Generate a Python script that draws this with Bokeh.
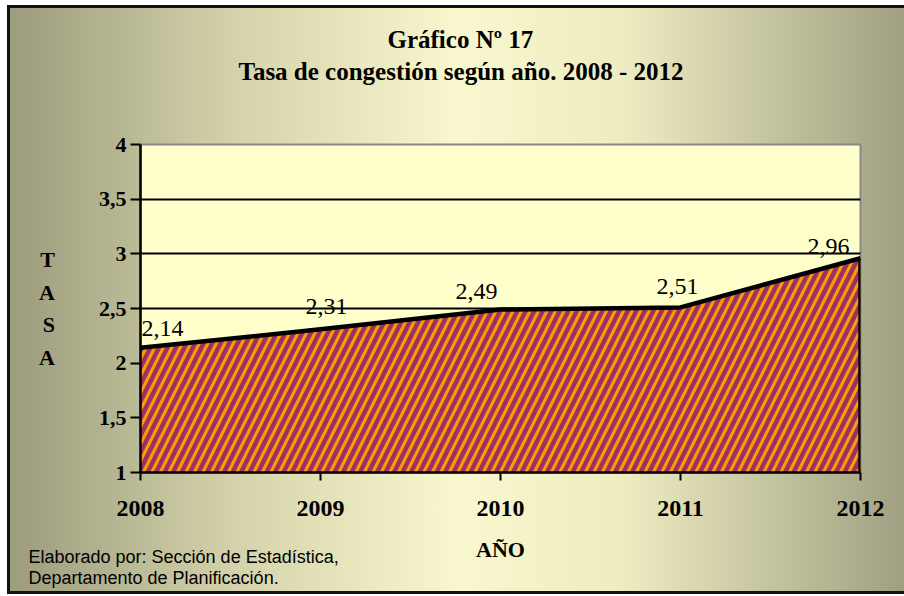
from bokeh.plotting import figure
from bokeh.models import ColumnDataSource, FixedTicker, Range1d, Title
from bokeh.core.properties import value
from bokeh.embed import file_html
from bokeh.resources import INLINE

# ---- data ----
years = [2008, 2009, 2010, 2011, 2012]
tasa = [2.14, 2.31, 2.49, 2.51, 2.96]
tasa_labels = ["2,14", "2,31", "2,49", "2,51", "2,96"]
y_ticks = [1, 1.5, 2, 2.5, 3, 3.5, 4]
y_tick_labels = ["1", "1,5", "2", "2,5", "3", "3,5", "4"]
x_tick_labels = ["2008", "2009", "2010", "2011", "2012"]
title_1 = "Gráfico Nº 17"
title_2 = "Tasa de congestión según año. 2008 - 2012"
y_title = "T\nA\nS\nA"
x_title = "AÑO"
footer = "Elaborado por: Sección de Estadística,\nDepartamento de Planificación."
# label placement offsets (pixels)
label_dx = [22, 6, -24, -3, -32]
label_dy = [-19, -23, -18, -21, -12]

SERIF = "Liberation Serif"
SANS = "Liberation Sans"

W, H = 904, 596
p = figure(width=W, height=H, output_backend="svg", toolbar_location=None,
           x_range=Range1d(years[0], years[-1]),
           y_range=Range1d(y_ticks[0], y_ticks[-1]),
           min_border_left=140, min_border_right=44,
           min_border_top=144, min_border_bottom=124)
bar = "linear-gradient(#111111,#111111)"
p.styles = {"background": (
    f"{bar} 7px 5px / 3px 589px no-repeat, "
    f"{bar} 7px 5px / 897px 3px no-repeat, "
    f"{bar} 7px 591px / 897px 3px no-repeat, "
    "linear-gradient(to right, #9b9b7d 0%, #d3d2aa 25%, #f8f7cd 50%, #eeedc2 68%, #9f9e81 100%) 7px 5px / 900px 589px no-repeat, "
    "#ffffff")}
p.border_fill_alpha = 0
p.background_fill_color = "#FFFFCC"
p.outline_line_color = "#888888"
p.outline_line_width = 2

# titles: frame <- spacer <- title_2 <- title_1
def style_title(t):
    t.text_font = SERIF
    t.text_font_size = "25px"
    t.text_font_style = "bold"
    t.text_color = "black"
    t.align = "left"

p.title.text = title_1
style_title(p.title)
p.title.offset = 247
p.title.standoff = 0
spacer = Title(text=" ", standoff=54, text_font_size="1px")
p.add_layout(spacer, "above")
t2 = Title(text=title_2, standoff=6)
style_title(t2)
t2.offset = 98
p.add_layout(t2, "above")

# grid
p.xgrid.visible = False
p.ygrid.ticker = FixedTicker(ticks=y_ticks[1:-1])
p.ygrid.grid_line_color = "black"
p.ygrid.grid_line_width = 2

# axes
p.yaxis.ticker = FixedTicker(ticks=y_ticks)
p.yaxis.major_label_overrides = {float(t): l for t, l in zip(y_ticks, y_tick_labels)}
p.yaxis.major_label_text_font = SERIF
p.yaxis.major_label_text_font_style = "bold"
p.yaxis.major_label_text_font_size = "22px"
p.yaxis.major_label_text_color = "black"
p.yaxis.axis_line_width = 2.5
p.yaxis.axis_line_color = "black"
p.yaxis.major_tick_in = 0
p.yaxis.major_tick_out = 10
p.yaxis.major_tick_line_width = 2
p.yaxis.minor_tick_line_color = None
p.yaxis.major_label_standoff = 4
p.yaxis.axis_label = y_title
p.yaxis.axis_label_orientation = "horizontal"
p.yaxis.axis_label_text_font = SERIF
p.yaxis.axis_label_text_font_style = "bold"
p.yaxis.axis_label_text_font_size = "22px"
p.yaxis.axis_label_text_color = "black"
p.yaxis.axis_label_text_line_height = 1.3
p.yaxis.axis_label_standoff = 41

p.xaxis.ticker = FixedTicker(ticks=years)
p.xaxis.major_label_overrides = {float(t): l for t, l in zip(years, x_tick_labels)}
p.xaxis.major_label_text_font = SERIF
p.xaxis.major_label_text_font_style = "bold"
p.xaxis.major_label_text_font_size = "24px"
p.xaxis.major_label_text_color = "black"
p.xaxis.axis_line_width = 2.5
p.xaxis.axis_line_color = "black"
p.xaxis.major_tick_in = 0
p.xaxis.major_tick_out = 8
p.xaxis.major_tick_line_width = 2
p.xaxis.minor_tick_line_color = None
p.xaxis.major_label_standoff = 20
p.xaxis.axis_label = x_title
p.xaxis.axis_label_text_font = SERIF
p.xaxis.axis_label_text_font_style = "bold"
p.xaxis.axis_label_text_font_size = "22px"
p.xaxis.axis_label_text_color = "black"
p.xaxis.axis_label_standoff = 18

# footer (below the x axis, pulled up beside the axis title)
ft = Title(text=footer, align="left", offset=-112, standoff=-38,
           text_font=SANS, text_font_size="18px", text_font_style="normal",
           text_color="black", text_line_height=1.06)
p.add_layout(ft, "below")

# area
src = ColumnDataSource(dict(x=years, y=tasa, txt=tasa_labels, dx=label_dx, dy=label_dy))
p.varea(x="x", y1=y_ticks[0], y2="y", source=src,
        fill_color="#993366", hatch_pattern="/", hatch_color="#FF9900",
        hatch_scale=17, hatch_weight=3.1)
p.line(x="x", y="y", source=src, line_color="black", line_width=4.5, line_join="round")
p.segment(x0=years[-1], y0=y_ticks[0], x1=years[-1], y1=tasa[-1],
          line_color="black", line_width=4.5)

p.text(x="x", y="y", text="txt", x_offset="dx", y_offset="dy", source=src,
       text_font=value(SERIF), text_font_size="24px", text_align="center",
       text_baseline="alphabetic", text_color="black")

open("out.html", "w").write(file_html(p, INLINE))
